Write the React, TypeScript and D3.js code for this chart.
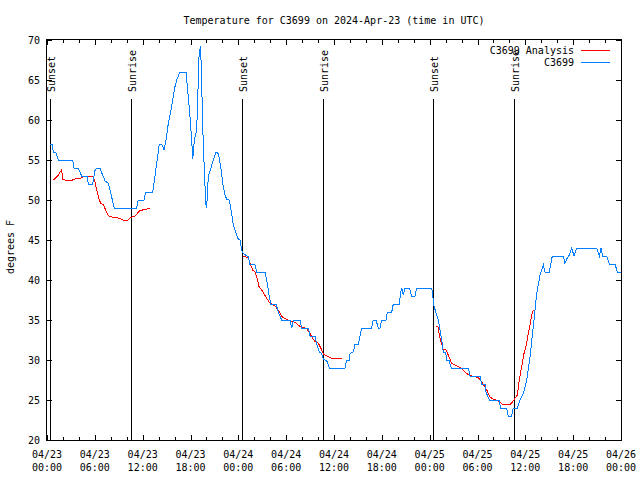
import React from "react";
import * as d3 from "d3";

// hours since 2024-04-23 00:00 UTC
const OBS_HOURS = [0.38,0.66,0.79,1.09,1.22,1.42,3.22,3.39,3.93,4.35,5.06,5.18,5.73,6.02,6.23,6.65,6.86,7.28,7.69,7.9,8.44,11.25,11.45,12.17,12.38,13.26,13.42,13.76,14.09,14.39,14.68,14.93,15.22,15.64,16.06,16.27,16.68,17.44,17.72,17.94,18.15,18.28,18.48,18.78,19.07,19.23,19.32,19.61,19.91,20.03,20.23,20.86,21.2,21.49,21.79,22.04,22.33,22.54,22.87,23.17,23.37,23.67,23.92,24.21,24.42,24.62,25.25,25.46,26.09,26.3,27.35,27.56,27.89,28.06,28.73,29.01,29.44,30.48,30.7,30.9,31.11,31.74,31.95,32.79,32.99,33.62,33.83,34.16,34.46,34.66,35.09,35.41,37.38,37.59,37.92,38.01,38.42,38.64,39.05,39.48,40.73,40.93,41.27,41.56,41.77,41.98,42.52,42.69,43.24,43.44,44.19,44.37,44.49,44.69,44.91,45.45,45.75,46.16,46.38,48.26,48.46,48.54,48.88,49.08,49.3,49.51,49.71,50.01,50.13,50.43,50.64,50.76,52.85,53.06,54.31,54.53,54.94,55.07,55.48,56.7,56.91,57.66,57.86,58.29,58.49,58.99,59.33,59.75,60.17,60.59,61.0,61.43,61.84,62.26,62.47,63.01,63.38,64.76,64.97,65.18,65.51,65.82,66.11,66.44,68.95,69.28,69.49,69.71,70.21,70.54,71.25,71.54,72.0];
const OBS_TEMPS = [57,57,56,56,55.6,55,55,54,54,53,53,52,52,53.7,54,54,53.4,52.4,52.1,51.25,49,49,50,50,51,51,52.1,54.6,57,57,56.25,57.5,59.6,61.7,64.2,65,66,66,62.9,60.4,57.5,55.1,57.5,58.75,67.9,69.2,67.5,56.7,49.6,49,52.9,55,56,55.8,54.2,52.1,50.6,50.1,50,48.3,46.9,46,45.2,45,43.75,43.3,42.9,41.9,41.9,41,41,40,37.9,37,37,36,35,35,34,35,35,35,34,34,33,33,32,31,30.8,30.1,29.9,29,29,30,30,30.8,31,32,32,34,34,35,35,34,34,35,35,36,36,37,37,38.5,39,38.1,39,39,38,38,39,39,37.5,36.75,35.6,35,33.75,32.5,31,31,30,30,29.2,29,29,28,28,27,27,26,25,25,24,24,23,23,24,24,25,25.8,27.5,30.4,34.2,38.3,40.6,41.9,41,41,43,43,42.1,42.6,43.1,44,43,44,44,43,44,43,43,42,42,41,41];

// analysis series: null separates runs
const ANA_HOURS = [0.79,1.42,1.84,1.97,2.47,3.1,3.3,4.14,4.55,5.81,6.02,6.23,6.56,6.74,7.06,7.36,7.69,7.9,8.74,9.37,9.78,10.07,10.5,11.04,11.67,12.29,12.92,null,
  24.55,25.25,25.46,25.8,26.09,26.3,26.59,26.93,27.56,27.97,28.6,29.01,29.57,30.48,31.11,31.74,32.58,32.99,33.33,33.62,34.03,34.46,34.66,35.29,35.71,36.97,null,
  48.8,49.08,49.21,49.51,49.71,50.05,50.34,50.76,51.39,52.02,52.64,53.27,54.1,54.53,55.16,55.57,55.98,56.61,57.24,58.08,58.42,58.7,58.99,59.24,59.55,59.83,60.08,60.37,60.59,60.8,61.0];
const ANA_TEMPS = [52.5,53.1,53.8,52.6,52.4,52.4,52.6,52.7,52.9,52.9,52.3,51.25,50,49.6,49.4,48.75,48.1,47.9,47.8,47.6,47.4,47.4,47.8,48,48.7,48.8,49,null,
  43,42.8,42.1,41.25,41,40.4,39.2,38.75,37.7,37.1,36.75,36.25,35.3,34.9,34.7,34.2,33.9,33.3,32.7,32.3,32.1,31.25,30.75,30.4,30.2,30.2,null,
  34.25,34.1,33.1,32,31.3,31.25,30.6,29.6,29.25,28.96,28.3,28,27.8,27.3,26.25,25.4,25.1,24.9,24.4,24.4,24.8,25.2,25.6,27.5,29.2,30.8,31.7,33.3,34.4,35.6,36.25];

const SUN_HOURS = [0.38, 10.58, 24.5, 34.66, 48.46, 58.6];
const SUN_LABELS = ["Sunset", "Sunrise", "Sunset", "Sunrise", "Sunset", "Sunrise"];

const Y_TICKS = [20, 25, 30, 35, 40, 45, 50, 55, 60, 65, 70];
const X_MAJOR_HOURS = [0, 6, 12, 18, 24, 30, 36, 42, 48, 54, 60, 66, 72];
const X_MINOR_HOURS = d3.range(0, 73, 2);

const TITLE = "Temperature for C3699 on 2024-Apr-23 (time in UTC)";
const Y_LABEL = "degrees F";
const SERIES_NAMES = ["C3699 Analysis", "C3699"];
const COLORS = ["#ff0000", "#0080ff"];

const BASE = Date.UTC(2024, 3, 23);
const toDate = (h: number) => new Date(BASE + h * 3600e3);

export default function App() {
  const W = 640, H = 480;
  const L = 47, R = 621, T = 40, B = 440;
  const x = d3.scaleUtc().domain([toDate(0), toDate(72)]).range([L, R]);
  const y = d3.scaleLinear().domain([20, 70]).range([B, T]);
  const font = "'DejaVu Sans Mono', 'Liberation Mono', monospace";
  const fs = 10;

  const obs = OBS_HOURS.map((h, i) => ({ t: toDate(h), v: OBS_TEMPS[i] }));
  const ana = ANA_HOURS.map((h, i) => ({ t: h == null ? null : toDate(h), v: ANA_TEMPS[i] }));
  const line = d3.line<any>().defined((d) => d.t != null && d.v != null).x((d) => x(d.t)).y((d) => y(d.v));

  const fmtDay = d3.utcFormat("%m/%d");
  const fmtTime = d3.utcFormat("%H:%M");

  return (
    <svg width={W} height={H} style={{ position: "absolute", left: 0, top: 0, background: "#fff" }} fontFamily={font} fontSize={fs}>
      <rect x={0} y={0} width={W} height={H} fill="#fff" />
      <text x={(L + R) / 2} y={24} textAnchor="middle">{TITLE}</text>
      <text transform={`translate(14,${(T + B) / 2 + 7}) rotate(-90)`} textAnchor="middle">{Y_LABEL}</text>

      {/* y ticks */}
      {Y_TICKS.map((v) => (
        <g key={"y" + v}>
          <line x1={L} x2={L + 5} y1={Math.round(y(v)) + 0.5} y2={Math.round(y(v)) + 0.5} stroke="#000" />
          <line x1={R - 5} x2={R} y1={Math.round(y(v)) + 0.5} y2={Math.round(y(v)) + 0.5} stroke="#000" />
          <text x={40} y={y(v) + 4} textAnchor="end">{v}</text>
        </g>
      ))}
      {/* x minor ticks */}
      {X_MINOR_HOURS.map((h) => {
        const px = Math.round(x(toDate(h))) + 0.5;
        return (
          <g key={"xm" + h}>
            <line x1={px} x2={px} y1={B} y2={B - 3} stroke="#000" />
            <line x1={px} x2={px} y1={T} y2={T + 3} stroke="#000" />
          </g>
        );
      })}
      {X_MAJOR_HOURS.map((h) => {
        const d = toDate(h);
        const px = Math.round(x(d)) + 0.5;
        return (
          <g key={"x" + h}>
            <line x1={px} x2={px} y1={B} y2={B - 5} stroke="#000" />
            <line x1={px} x2={px} y1={T} y2={T + 5} stroke="#000" />
            <text x={x(d)} y={458} textAnchor="middle">{fmtDay(d)}</text>
            <text x={x(d)} y={471} textAnchor="middle">{fmtTime(d)}</text>
          </g>
        );
      })}

      {/* sun events */}
      {SUN_HOURS.map((h, i) => {
        const px = Math.round(x(toDate(h))) + 0.5;
        return (
          <g key={"s" + i}>
            <line x1={px} x2={px} y1={99} y2={B} stroke="#000" />
            <text transform={`translate(${px + 4},92) rotate(-90)`} textAnchor="start">{SUN_LABELS[i]}</text>
          </g>
        );
      })}

      {/* data */}
      <path d={line(ana) || ""} fill="none" stroke={COLORS[0]} strokeWidth={1} shapeRendering="crispEdges" />
      <path d={line(obs) || ""} fill="none" stroke={COLORS[1]} strokeWidth={1} shapeRendering="crispEdges" />

      {/* frame */}
      <rect x={L - 0.5} y={T - 0.5} width={R - L + 1} height={B - T + 1} fill="none" stroke="#000" />

      {/* legend */}
      {SERIES_NAMES.map((n, i) => (
        <g key={"lg" + i}>
          <text x={574} y={54 + i * 12} textAnchor="end">{n}</text>
          <line x1={581} x2={610} y1={50.5 + i * 12} y2={50.5 + i * 12} stroke={COLORS[i]} />
        </g>
      ))}
    </svg>
  );
}
